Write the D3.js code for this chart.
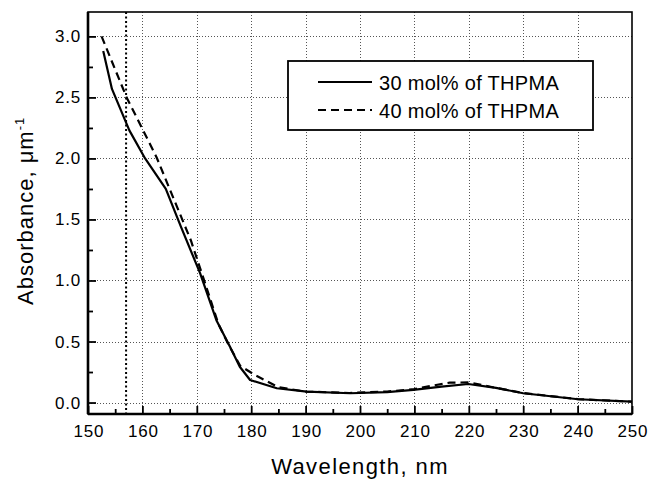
<!DOCTYPE html>
<html>
<head>
<meta charset="utf-8">
<script src="https://cdn.jsdelivr.net/npm/d3@7"></script>
<style>
  body { margin: 0; background: #fff; }
  svg text { font-family: Arial, "Liberation Sans", Helvetica, sans-serif; fill: #000; }
</style>
</head>
<body>
<svg id="chart" width="650" height="479"></svg>
<script>
// wavelength (nm) / absorbance (um^-1)
const wl_30  = [152.8, 154.4, 157.6, 160.5, 164.3, 167, 170.6, 173.6, 176.1, 177.9, 179.8, 184.7, 190.2, 198.2, 205, 209.8, 215, 219.9, 225, 230, 240.1, 249.9];
const abs_30 = [2.88, 2.57, 2.23, 2.0, 1.75, 1.45, 1.06, 0.675, 0.457, 0.293, 0.185, 0.117, 0.089, 0.076, 0.085, 0.103, 0.13, 0.152, 0.12, 0.076, 0.027, 0.007];
const wl_40  = [152.5, 157.1, 162.6, 168.9, 171.5, 174, 176, 178, 180.7, 185, 190, 198, 205, 210, 213, 216.5, 220, 225, 230, 240, 250];
const abs_40 = [3.0, 2.5, 2.01, 1.33, 0.98, 0.64, 0.46, 0.3, 0.225, 0.125, 0.09, 0.078, 0.09, 0.11, 0.136, 0.163, 0.165, 0.12, 0.078, 0.028, 0.007];

const series_names = ["30 mol% of THPMA", "40 mol% of THPMA"];
const x_ticks = [150, 160, 170, 180, 190, 200, 210, 220, 230, 240, 250];
const y_ticks = [0.0, 0.5, 1.0, 1.5, 2.0, 2.5, 3.0];
const laser_wl = 157;

const margin = {left: 88, right: 18, top: 12, bottom: 65};
const W = 650, H = 479;

const svg = d3.select("#chart");
const x = d3.scaleLinear().domain([150, 250]).range([margin.left, W - margin.right]);
const y = d3.scaleLinear().domain([-0.094, 3.2]).range([H - margin.bottom, margin.top]);
const snap = v => Math.round(v) + 0.5;

// dotted grid
const grid = svg.append("g").attr("class", "grid")
  .attr("stroke", "#555").attr("stroke-width", 1).attr("stroke-dasharray", "1,2");
grid.selectAll(null).data(x_ticks.slice(1, -1)).join("line")
  .attr("x1", d => snap(x(d))).attr("x2", d => snap(x(d)))
  .attr("y1", y.range()[1]).attr("y2", y.range()[0]);
grid.selectAll(null).data(y_ticks).join("line")
  .attr("x1", x.range()[0]).attr("x2", x.range()[1])
  .attr("y1", d => snap(y(d))).attr("y2", d => snap(y(d)));

// 157 nm marker
svg.append("line")
  .attr("x1", x(laser_wl)).attr("x2", x(laser_wl))
  .attr("y1", y.range()[1]).attr("y2", y.range()[0])
  .attr("stroke", "#000").attr("stroke-width", 2).attr("stroke-dasharray", "2,2.5");

// curves
const line = d3.line().x(d => x(d[0])).y(d => y(d[1]));
svg.append("path").datum(d3.zip(wl_30, abs_30))
  .attr("d", line).attr("fill", "none").attr("stroke", "#000").attr("stroke-width", 2.2)
  .attr("stroke-linejoin", "round");
svg.append("path").datum(d3.zip(wl_40, abs_40))
  .attr("d", line).attr("fill", "none").attr("stroke", "#000").attr("stroke-width", 2.2)
  .attr("stroke-dasharray", "8,5");

// axes with inward ticks
const xAxis = svg.append("g").attr("transform", `translate(0,${y.range()[0]})`)
  .call(d3.axisBottom(x).tickValues(d3.range(150, 251, 5)).tickSize(-5).tickFormat(""));
xAxis.selectAll(".tick line").filter(d => d % 10 === 0).attr("y2", -8);
const yAxis = svg.append("g").attr("transform", `translate(${x.range()[0]},0)`)
  .call(d3.axisLeft(y).tickValues(d3.range(0, 3.01, 0.25)).tickSize(-5).tickFormat(""));
yAxis.selectAll(".tick line").filter(d => Math.abs(d * 2 - Math.round(d * 2)) < 1e-6).attr("x2", 8);
[xAxis, yAxis].forEach(a => {
  a.select(".domain").remove();
  a.selectAll(".tick line").attr("stroke", "#000").attr("stroke-width", 1.8);
});

// tick labels
svg.selectAll("text.xl").data(x_ticks).join("text")
  .attr("x", d => x(d) + 1).attr("y", y.range()[0] + 23)
  .attr("text-anchor", "middle").attr("font-size", 17).attr("letter-spacing", 0.8).text(d => d);
svg.selectAll("text.yl").data(y_ticks).join("text")
  .attr("x", 81).attr("y", d => y(d) + 6)
  .attr("text-anchor", "end").attr("font-size", 17).attr("letter-spacing", 0.8).text(d => d.toFixed(1));

// frame
svg.append("rect")
  .attr("x", x.range()[0]).attr("y", y.range()[1])
  .attr("width", x.range()[1] - x.range()[0]).attr("height", y.range()[0] - y.range()[1])
  .attr("fill", "none").attr("stroke", "#000").attr("stroke-width", 1.6);
svg.append("line").attr("x1", x.range()[0]).attr("x2", x.range()[1])
  .attr("y1", y.range()[0]).attr("y2", y.range()[0]).attr("stroke", "#000").attr("stroke-width", 2.6);
svg.append("line").attr("x1", x.range()[0]).attr("x2", x.range()[0])
  .attr("y1", y.range()[1]).attr("y2", y.range()[0]).attr("stroke", "#000").attr("stroke-width", 2.6);

// axis titles
svg.append("text").attr("x", 360).attr("y", 474).attr("text-anchor", "middle")
  .attr("font-size", 22).attr("letter-spacing", 1.4).text("Wavelength, nm");
const yt = svg.append("text").attr("transform", "translate(33,305) rotate(-90)")
  .attr("text-anchor", "start").attr("font-size", 22).attr("letter-spacing", 1);
yt.append("tspan").text("Absorbance, \u03bcm");
yt.append("tspan").attr("dy", -9).attr("font-size", 13).text("-1");

// legend
const lg = svg.append("g").attr("transform", "translate(288,61)");
lg.append("rect").attr("width", 305).attr("height", 69)
  .attr("fill", "#fff").attr("stroke", "#000").attr("stroke-width", 1.8);
series_names.forEach((name, i) => {
  const yy = 21 + i * 28;
  lg.append("line").attr("x1", 30).attr("x2", 84).attr("y1", yy).attr("y2", yy)
    .attr("stroke", "#000").attr("stroke-width", 2.2)
    .attr("stroke-dasharray", i ? "8,5" : null);
  lg.append("text").attr("x", 91).attr("y", yy + 7.5).attr("font-size", 20)
    .attr("letter-spacing", 0.3).text(name);
});
</script>
</body>
</html>
